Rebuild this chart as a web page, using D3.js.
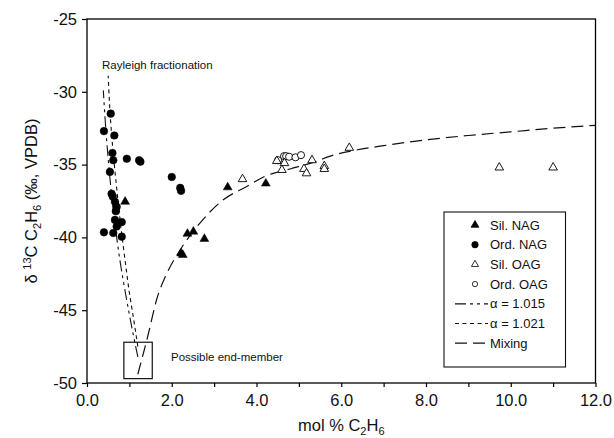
<!DOCTYPE html>
<html>
<head>
<meta charset="utf-8">
<script src="https://cdn.jsdelivr.net/npm/d3@7"></script>
<style>
  body { margin: 0; background: #fff; }
  svg text { font-family: "Liberation Sans", Arial, sans-serif; }
</style>
</head>
<body>
<div id="chart"></div>
<script>
// data: [mol % C2H6, d13C]
const silNAG = [[0.90,-37.55],[2.26,-41.2],[2.22,-41.1],[2.37,-39.75],[2.51,-39.6],[2.77,-40.1],[3.32,-36.56],[4.22,-36.3]];
const ordNAG = [[0.56,-31.5],[0.40,-32.7],[0.645,-33.0],[0.60,-34.2],[0.62,-34.7],[0.94,-34.6],[1.23,-34.7],[1.26,-34.8],
  [0.54,-35.5],[2.0,-35.85],[2.20,-36.6],[2.22,-36.8],[0.58,-37.0],[0.61,-37.2],[0.66,-37.55],[0.70,-37.9],[0.68,-38.2],
  [0.66,-38.8],[0.82,-38.95],[0.70,-39.25],[0.40,-39.65],[0.62,-39.7],[0.82,-39.95]];
const silOAG = [[3.67,-36.0],[4.48,-34.75],[4.66,-34.9],[4.60,-35.37],[5.12,-35.3],[5.18,-35.6],[5.31,-34.7],[5.60,-35.1],
  [5.60,-35.3],[6.19,-33.85],[9.73,-35.2],[11.0,-35.2]];
const ordOAG = [[4.51,-34.7],[4.65,-34.42],[4.70,-34.42],[4.77,-34.46],[4.92,-34.5],[5.05,-34.35]];

const rayleigh1015 = [[1.2,-48.2],[1.1,-46.8],[1.0,-45.3],[0.9,-43.7],[0.8,-42.0],[0.7,-40.0],[0.6,-37.6],[0.5,-34.6],[0.45,-32.8],[0.385,-29.9]];
const rayleigh1021 = [[1.2,-47.5],[1.1,-45.6],[1.0,-43.8],[0.9,-41.6],[0.8,-39.3],[0.7,-36.6],[0.6,-33.6],[0.55,-31.7],[0.5,-28.9]];
const mixing = [[1.2,-49.4],[1.45,-46.6],[1.64,-44.3],[1.88,-42.5],[2.19,-40.9],[2.67,-39.0],[3.18,-37.5],[3.77,-36.5],
  [4.2,-35.8],[4.79,-35.3],[5.34,-34.85],[5.81,-34.35],[6.36,-34.0],[7,-33.7],[8,-33.3],[9,-33.0],[10,-32.75],[11,-32.5],[12,-32.3]];

const endMember = [[0.87,-47.2],[1.54,-49.7]];
const xTicks = [0,2,4,6,8,10,12];
const yTicks = [-25,-30,-35,-40,-45,-50];

const width = 614, height = 438;
const margin = {top: 19, right: 18.5, bottom: 55, left: 87};

const svg = d3.select("#chart").append("svg")
  .attr("width", width).attr("height", height);

const x = d3.scaleLinear().domain([0, 12]).range([margin.left, width - margin.right]);
const y = d3.scaleLinear().domain([-50, -25]).range([height - margin.bottom, margin.top]);

// frame
svg.append("rect")
  .attr("x", x(0)).attr("y", y(-25))
  .attr("width", x(12) - x(0)).attr("height", y(-50) - y(-25))
  .attr("fill", "none").attr("stroke", "#000").attr("stroke-width", 1.3);

// x axis
const xAxis = svg.append("g")
  .attr("transform", `translate(0,${y(-50)})`)
  .call(d3.axisBottom(x).tickValues(d3.range(0, 13, 1)).tickSize(4)
    .tickFormat(d => xTicks.includes(d) ? d.toFixed(1) : ""));
xAxis.select(".domain").remove();
xAxis.selectAll("text").attr("font-size", 16.5).attr("fill", "#111").attr("dy", "0.95em");
xAxis.selectAll("line").attr("stroke-width", 1.2);

// y axis (plain hyphen like the original)
const yAxis = svg.append("g")
  .attr("transform", `translate(${x(0)},0)`)
  .call(d3.axisLeft(y).tickValues(yTicks).tickSize(5).tickPadding(5).tickFormat(d => String(d)));
yAxis.select(".domain").remove();
yAxis.selectAll("text").attr("font-size", 16.5).attr("fill", "#111");
yAxis.selectAll("line").attr("stroke-width", 1.2);

// axis titles
const xt = svg.append("text")
  .attr("x", (x(0) + x(12)) / 2).attr("y", 431)
  .attr("text-anchor", "middle").attr("font-size", 16.5).attr("fill", "#111");
xt.append("tspan").text("mol % C");
xt.append("tspan").attr("font-size", 11).attr("dy", 4).text("2");
xt.append("tspan").attr("dy", -4).text("H");
xt.append("tspan").attr("font-size", 11).attr("dy", 4).text("6");

const yt = svg.append("text")
  .attr("transform", `translate(37,${(y(-25) + y(-50)) / 2}) rotate(-90)`)
  .attr("text-anchor", "middle").attr("font-size", 16.5).attr("fill", "#111");
yt.append("tspan").text("\u03b4 ");
yt.append("tspan").attr("font-size", 11).attr("dy", -6).text("13");
yt.append("tspan").attr("dy", 6).text("C C");
yt.append("tspan").attr("font-size", 11).attr("dy", 4).text("2");
yt.append("tspan").attr("dy", -4).text("H");
yt.append("tspan").attr("font-size", 11).attr("dy", 4).text("6");
yt.append("tspan").attr("dy", -4).text(" (\u2030, VPDB)");

// curves
const line = d3.line().x(d => x(d[0])).y(d => y(d[1])).curve(d3.curveMonotoneY);
const lineX = d3.line().x(d => x(d[0])).y(d => y(d[1])).curve(d3.curveMonotoneX);
const dash1015 = "11,4,3,4,3,4", dash1021 = "4,3.5", dashMix = "12,6";

svg.append("path").datum(rayleigh1015).attr("d", line)
  .attr("fill", "none").attr("stroke", "#111").attr("stroke-width", 1.1).attr("stroke-dasharray", dash1015);
svg.append("path").datum(rayleigh1021).attr("d", line)
  .attr("fill", "none").attr("stroke", "#111").attr("stroke-width", 1.1).attr("stroke-dasharray", dash1021);
svg.append("path").datum(mixing).attr("d", lineX)
  .attr("fill", "none").attr("stroke", "#111").attr("stroke-width", 1.2).attr("stroke-dasharray", dashMix);

// end-member box
svg.append("rect")
  .attr("x", x(endMember[0][0])).attr("y", y(endMember[0][1]))
  .attr("width", x(endMember[1][0]) - x(endMember[0][0]))
  .attr("height", y(endMember[1][1]) - y(endMember[0][1]))
  .attr("fill", "none").attr("stroke", "#111").attr("stroke-width", 1.2);

svg.append("text").attr("x", 171).attr("y", 361).attr("font-size", 11.5).attr("fill", "#111")
  .text("Possible end-member");
svg.append("text").attr("x", 102).attr("y", 69).attr("font-size", 11.5).attr("fill", "#111")
  .text("Rayleigh fractionation");

// points
const tri = d3.symbol().type(d3.symbolTriangle);
const circ = d3.symbol().type(d3.symbolCircle);
function drawPts(data, sym, size, filled) {
  svg.append("g").selectAll("path").data(data).join("path")
    .attr("transform", d => `translate(${x(d[0])},${y(d[1])})`)
    .attr("d", sym.size(size)())
    .attr("fill", filled ? "#000" : "#fff")
    .attr("stroke", "#000").attr("stroke-width", filled ? 0.5 : 0.9);
}
drawPts(ordNAG, circ, 46, true);
drawPts(silNAG, tri, 34, true);
drawPts(ordOAG, circ, 40, false);
drawPts(silOAG, tri, 32, false);

// legend
const lg = svg.append("g");
lg.append("rect").attr("x", 444).attr("y", 212).attr("width", 121.5).attr("height", 155)
  .attr("fill", "#fff").attr("stroke", "#111").attr("stroke-width", 1.1);
const legendItems = [
  {label: "Sil. NAG", sym: d3.symbolTriangle, size: 26, filled: true},
  {label: "Ord. NAG", sym: d3.symbolCircle, size: 32, filled: true},
  {label: "Sil. OAG", sym: d3.symbolTriangle, size: 22, filled: false},
  {label: "Ord. OAG", sym: d3.symbolCircle, size: 22, filled: false},
  {label: "\u03b1 = 1.015", dash: dash1015},
  {label: "\u03b1 = 1.021", dash: dash1021},
  {label: "Mixing", dash: dashMix}
];
legendItems.forEach((it, i) => {
  const cy = 225 + i * 19.7;
  if (it.dash) {
    lg.append("line").attr("x1", 455).attr("x2", 488).attr("y1", cy).attr("y2", cy)
      .attr("stroke", "#111").attr("stroke-width", 1.2).attr("stroke-dasharray", it.dash);
  } else {
    lg.append("path").attr("transform", `translate(475,${cy})`)
      .attr("d", d3.symbol().type(it.sym).size(it.size)())
      .attr("fill", it.filled ? "#000" : "#fff").attr("stroke", "#000").attr("stroke-width", 0.8);
  }
  lg.append("text").attr("x", 490).attr("y", cy + 4.5).attr("font-size", 13).attr("fill", "#111")
    .text(it.label);
});
</script>
</body>
</html>
